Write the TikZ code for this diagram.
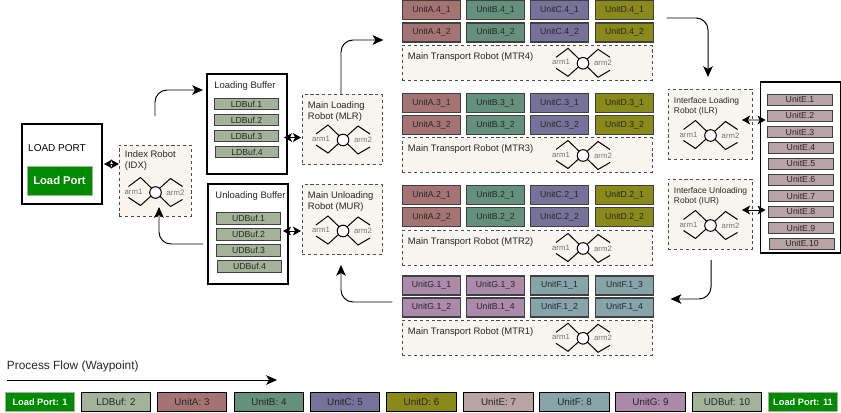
\documentclass[tikz,border=0pt]{standalone}
\usepackage{fontspec}
\setmainfont{Liberation Sans}
\usetikzlibrary{calc, arrows.meta}
\definecolor{mygreen}{HTML}{008A00}
\definecolor{myrobot}{HTML}{F7F5EE}
\definecolor{mybuf}{HTML}{A3B39A}
\definecolor{myunitA}{HTML}{A67373}
\definecolor{myunitB}{HTML}{64907C}
\definecolor{myunitC}{HTML}{757399}
\definecolor{myunitD}{HTML}{8A8A1A}
\definecolor{myunitE}{HTML}{B9A4A4}
\definecolor{myunitF}{HTML}{87A4A9}
\definecolor{myunitG}{HTML}{AB8AAA}
\definecolor{mytext}{HTML}{262626}
\tikzset{
	myblock/.style={rectangle, outer sep=0pt, inner sep=0pt, line width=0.85pt, text=mytext, align=center,
				font=\fontsize{6.2}{7}\selectfont
				},
	myunit/.style={myblock, draw=black!75, minimum width=1.455cm, minimum height=0.475cm
				},
	myunitshort/.style={myblock, draw=black!75, fill=mybuf, minimum width=1.59cm, minimum height=0.28cm
				},
	myunite/.style={myblock, draw=black!75, fill=myunitE, minimum width=1.62cm, minimum height=0.27cm
				},
	mylegend/.style={myblock, draw=black, minimum width=1.73cm, minimum height=0.48cm, line width=0.7pt,
				font=\fontsize{7}{8}\selectfont
				},
	mylegendport/.style={mylegend, draw=mybuf, fill=mygreen, text=white, font=\fontsize{6.6}{8}\selectfont\bfseries
				},
	mybuffer/.style={rectangle, draw=black, fill=white, line width=0.75pt, outer sep=0pt
				},
	myrobotbox/.style={rectangle, draw=black!70, fill=myrobot, line width=0.6pt, dash pattern=on 2.2pt off 2pt, outer sep=0pt
				},
	mylabel/.style={anchor=north west, inner sep=0pt, outer sep=0pt, align=left, text=mytext,
				font=\fontsize{6.7}{7.6}\selectfont
				},
	myarrow/.style={-{Stealth[length=2.7mm, width=2.4mm, inset=0.7mm]}, black, line width=0.7pt, rounded corners=3mm
				},
	mydouble/.style={{Stealth[length=2mm, width=2.2mm, inset=0.5mm]}-{Stealth[length=2mm, width=2.2mm, inset=0.5mm]}, black, line width=0.7pt
				},
	myarms/.pic={
		\draw[line width=0.7pt] (-27,-6) -- (-15,-15) -- (15,14) -- (27,7);
		\draw[line width=0.7pt] (-27,5) -- (-15,13) -- (15,-14) -- (27,-6);
		\node[circle, draw=black, fill=white, line width=0.7pt, minimum size=0.29cm, inner sep=0pt] (hub) at (0,0) {};
		\node[text=black!55, font=\fontsize{5.5}{6}\selectfont] (armone) at (-22,-1) {arm1};
		\node[text=black!55, font=\fontsize{5.5}{6}\selectfont] (armtwo) at (20,0) {arm2};
	}
	}

\begin{document}
\begin{tikzpicture}[x=0.025cm, y=-0.025cm]

	\useasboundingbox (0,0) rectangle (841,413);

	\node[mybuffer, minimum width=2cm, minimum height=2cm] (loadport) at (62,164) {};
	\node[mylabel, anchor=center, font=\fontsize{7.1}{8}\selectfont, text=black] (loadportt) at ($(loadport.center) + (-5,-16)$) {LOAD PORT};
	\node[myblock, draw=mybuf, line width=0.4pt, fill=mygreen, minimum width=1.625cm, minimum height=0.725cm, text=white, font=\fontsize{8}{9}\selectfont\bfseries] (loadportg) at ($(loadport.center) + (-2.5,16.5)$) {Load Port};

	\node[myrobotbox, minimum width=1.8cm, minimum height=1.775cm] (idx) at (155,180.5) {};
	\node[mylabel] (idxt) at ($(idx.north west) + (6,6)$) {Index Robot\\(IDX)};
	\pic (idxarms) at ($(idx.center) + (0.5,12)$) {myarms};

	\node[mybuffer, minimum width=2cm, minimum height=2.5cm] (loadbuf) at (247,124) {};
	\node[mylabel, anchor=center] (loadbuft) at ($(loadbuf.north) + (-2,12)$) {Loading Buffer};
	\node[myunitshort] (ldbuf1) at (246.5,104) {LDBuf.1};
	\node[myunitshort] (ldbuf2) at ($(ldbuf1.center) + (0,16)$) {LDBuf.2};
	\node[myunitshort] (ldbuf3) at ($(ldbuf2.center) + (0,16)$) {LDBuf.3};
	\node[myunitshort] (ldbuf4) at ($(ldbuf3.center) + (0.5,16)$) {LDBuf.4};

	\node[mybuffer, minimum width=2cm, minimum height=2.5cm] (unloadbuf) at (248,234) {};
	\node[mylabel, anchor=center] (unloadbuft) at ($(unloadbuf.north) + (2.5,12)$) {Unloading Buffer};
	\node[myunitshort] (udbuf1) at (248.5,218.5) {UDBuf.1};
	\node[myunitshort] (udbuf2) at ($(udbuf1.center) + (0,16)$) {UDBuf.2};
	\node[myunitshort] (udbuf3) at ($(udbuf2.center) + (0,16)$) {UDBuf.3};
	\node[myunitshort] (udbuf4) at ($(udbuf3.center) + (1,16)$) {UDBuf.4};

	\node[myrobotbox, minimum width=2cm, minimum height=1.75cm] (mlr) at (342,129.5) {};
	\node[mylabel] (mlrt) at ($(mlr.north west) + (6,7)$) {Main Loading\\Robot (MLR)};
	\pic (mlrarms) at ($(mlr.center) + (1,10.5)$) {myarms};

	\node[myrobotbox, minimum width=2cm, minimum height=1.75cm] (mur) at (342,219.5) {};
	\node[mylabel] (murt) at ($(mur.north west) + (6,7)$) {Main Unloading\\Robot (MUR)};
	\pic (murarms) at ($(mur.center) + (1,11.5)$) {myarms};

	% process modules
	\node[myunit, fill=myunitA] (unitA41) at (431.5,10) {UnitA.4\_1};
	\node[myunit, fill=myunitB] (unitB41) at ($(unitA41.center) + (64,0)$) {UnitB.4\_1};
	\node[myunit, fill=myunitC] (unitC41) at ($(unitB41.center) + (64,0)$) {UnitC.4\_1};
	\node[myunit, fill=myunitD] (unitD41) at ($(unitC41.center) + (65,0)$) {UnitD.4\_1};
	\node[myunit, fill=myunitA] (unitA42) at ($(unitA41.center) + (0,22.5)$) {UnitA.4\_2};
	\node[myunit, fill=myunitB] (unitB42) at ($(unitA42.center) + (64,0)$) {UnitB.4\_2};
	\node[myunit, fill=myunitC] (unitC42) at ($(unitB42.center) + (64,0)$) {UnitC.4\_2};
	\node[myunit, fill=myunitD] (unitD42) at ($(unitC42.center) + (65,0)$) {UnitD.4\_2};
	\node[myrobotbox, minimum width=6.25cm, minimum height=0.8625cm] (mtr4) at (527,62.8) {};
	\node[mylabel, anchor=west] (mtr4t) at ($(mtr4.west) + (6,-6)$) {Main Transport Robot (MTR4)};
	\pic (mtr4arms) at ($(mtr4.center) + (56,0.5)$) {myarms};

	\node[myunit, fill=myunitA] (unitA31) at (431.5,102.8) {UnitA.3\_1};
	\node[myunit, fill=myunitB] (unitB31) at ($(unitA31.center) + (64,0)$) {UnitB.3\_1};
	\node[myunit, fill=myunitC] (unitC31) at ($(unitB31.center) + (64,0)$) {UnitC.3\_1};
	\node[myunit, fill=myunitD] (unitD31) at ($(unitC31.center) + (65,0)$) {UnitD.3\_1};
	\node[myunit, fill=myunitA] (unitA32) at ($(unitA31.center) + (0,22)$) {UnitA.3\_2};
	\node[myunit, fill=myunitB] (unitB32) at ($(unitA32.center) + (64,0)$) {UnitB.3\_2};
	\node[myunit, fill=myunitC] (unitC32) at ($(unitB32.center) + (64,0)$) {UnitC.3\_2};
	\node[myunit, fill=myunitD] (unitD32) at ($(unitC32.center) + (65,0)$) {UnitD.3\_2};
	\node[myrobotbox, minimum width=6.25cm, minimum height=0.8625cm] (mtr3) at (527,155) {};
	\node[mylabel, anchor=west] (mtr3t) at ($(mtr3.west) + (6,-6)$) {Main Transport Robot (MTR3)};
	\pic (mtr3arms) at ($(mtr3.center) + (56,0.5)$) {myarms};

	\node[myunit, fill=myunitA] (unitA21) at (431.5,195) {UnitA.2\_1};
	\node[myunit, fill=myunitB] (unitB21) at ($(unitA21.center) + (64,0)$) {UnitB.2\_1};
	\node[myunit, fill=myunitC] (unitC21) at ($(unitB21.center) + (64,0)$) {UnitC.2\_1};
	\node[myunit, fill=myunitD] (unitD21) at ($(unitC21.center) + (65,0)$) {UnitD.2\_1};
	\node[myunit, fill=myunitA] (unitA22) at ($(unitA21.center) + (0,22)$) {UnitA.2\_2};
	\node[myunit, fill=myunitB] (unitB22) at ($(unitA22.center) + (64,0)$) {UnitB.2\_2};
	\node[myunit, fill=myunitC] (unitC22) at ($(unitB22.center) + (64,0)$) {UnitC.2\_2};
	\node[myunit, fill=myunitD] (unitD22) at ($(unitC22.center) + (65,0)$) {UnitD.2\_2};
	\node[myrobotbox, minimum width=6.25cm, minimum height=0.8625cm] (mtr2) at (527,248) {};
	\node[mylabel, anchor=west] (mtr2t) at ($(mtr2.west) + (6,-6)$) {Main Transport Robot (MTR2)};
	\pic (mtr2arms) at ($(mtr2.center) + (56,0.5)$) {myarms};

	\node[myunit, fill=myunitG] (unitG11) at (431.5,285.5) {UnitG.1\_1};
	\node[myunit, fill=myunitG] (unitG13) at ($(unitG11.center) + (64,0)$) {UnitG.1\_3};
	\node[myunit, fill=myunitF] (unitF11) at ($(unitG13.center) + (64,0)$) {UnitF.1\_1};
	\node[myunit, fill=myunitF] (unitF13) at ($(unitF11.center) + (65,0)$) {UnitF.1\_3};
	\node[myunit, fill=myunitG] (unitG12) at ($(unitG11.center) + (0,22)$) {UnitG.1\_2};
	\node[myunit, fill=myunitG] (unitB14) at ($(unitG12.center) + (64,0)$) {UnitB.1\_4};
	\node[myunit, fill=myunitF] (unitF12) at ($(unitB14.center) + (64,0)$) {UnitF.1\_2};
	\node[myunit, fill=myunitF] (unitF14) at ($(unitF12.center) + (65,0)$) {UnitF.1\_4};
	\node[myrobotbox, minimum width=6.25cm, minimum height=0.8625cm] (mtr1) at (527,337.8) {};
	\node[mylabel, anchor=west] (mtr1t) at ($(mtr1.west) + (6,-6)$) {Main Transport Robot (MTR1)};
	\pic (mtr1arms) at ($(mtr1.center) + (56,0.5)$) {myarms};

	\node[myrobotbox, minimum width=2.1cm, minimum height=1.75cm] (ilr) at (710,124) {};
	\node[mylabel, font=\fontsize{6}{7.4}\selectfont] (ilrt) at ($(ilr.north west) + (6,8)$) {Interface Loading\\Robot (ILR)};
	\pic (ilrarms) at ($(ilr.center) + (0.5,11.5)$) {myarms};

	\node[myrobotbox, minimum width=2.1cm, minimum height=1.75cm] (iur) at (710,214) {};
	\node[mylabel, font=\fontsize{6}{7.4}\selectfont] (iurt) at ($(iur.north west) + (6,8)$) {Interface Unloading\\Robot (IUR)};
	\pic (iurarms) at ($(iur.center) + (0.5,11.5)$) {myarms};

	\node[mybuffer, minimum width=2.01cm, minimum height=4.275cm] (unite) at (800.5,167.5) {};
	\node[myunite] (unitE1) at (800,99.7) {UnitE.1};
	\node[myunite] (unitE2) at ($(unitE1.center) + (0,16)$) {UnitE.2};
	\node[myunite] (unitE3) at ($(unitE2.center) + (0,16.3)$) {UnitE.3};
	\node[myunite] (unitE4) at ($(unitE3.center) + (1,15.7)$) {UnitE.4};
	\node[myunite] (unitE5) at ($(unitE4.center) + (0,16)$) {UnitE.5};
	\node[myunite] (unitE6) at ($(unitE5.center) + (0,16)$) {UnitE.6};
	\node[myunite] (unitE7) at ($(unitE6.center) + (0,16.3)$) {UnitE.7};
	\node[myunite] (unitE8) at ($(unitE7.center) + (0,15.7)$) {UnitE.8};
	\node[myunite] (unitE9) at ($(unitE8.center) + (0,16.3)$) {UnitE.9};
	\node[myunite] (unitE10) at ($(unitE9.center) + (1,15.7)$) {UnitE.10};

	% legend
	\node[mylabel, anchor=west, font=\fontsize{8.45}{10}\selectfont] (flowt) at (7,366.7) {Process Flow (Waypoint)};
	\coordinate (flowstart) at ($(flowt.west) + (0,13.3)$);
	\coordinate (flowend) at ($(flowstart) + (270,0)$);
	\node[mylegendport] (lg1) at (40,402) {Load Port: 1};
	\node[mylegend, fill=mybuf] (lg2) at ($(lg1.center) + (76,0)$) {LDBuf: 2};
	\node[mylegend, fill=myunitA] (lg3) at ($(lg2.center) + (76,0)$) {UnitA: 3};
	\node[mylegend, fill=myunitB] (lg4) at ($(lg3.center) + (77,0)$) {UnitB: 4};
	\node[mylegend, fill=myunitC] (lg5) at ($(lg4.center) + (76,0)$) {UnitC: 5};
	\node[mylegend, fill=myunitD] (lg6) at ($(lg5.center) + (76.5,0)$) {UnitD: 6};
	\node[mylegend, fill=myunitE] (lg7) at ($(lg6.center) + (77,0)$) {UnitE: 7};
	\node[mylegend, fill=myunitF] (lg8) at ($(lg7.center) + (76,0)$) {UnitF: 8};
	\node[mylegend, fill=myunitG] (lg9) at ($(lg8.center) + (76,0)$) {UnitG: 9};
	\node[mylegend, fill=mybuf] (lg10) at ($(lg9.center) + (76.5,0)$) {UDBuf: 10};
	\node[mylegendport] (lg11) at ($(lg10.center) + (76,0)$) {Load Port: 11};

	\coordinate (idxout) at ($(idx.north) + (0,-29)$);
	\coordinate (loadbufin) at ($(loadbuf.west) + (-4,-34)$);
	\coordinate (unloadbufout) at ($(unloadbuf.west) + (-5,10)$);
	\coordinate (idxin) at ($(idx.south) + (4,-9)$);
	\coordinate (mtr4in) at ($(unitA42.west) + (-19,7.5)$);
	\coordinate (mtr4out) at ($(unitD41.east) + (13,8)$);
	\coordinate (ilrin) at ($(ilr.north) + (-2,-12)$);
	\coordinate (iurout) at ($(iur.south) + (1,11)$);
	\coordinate (mtr1in) at ($(unitF14.east) + (17,-8.5)$);
	\coordinate (mtr1out) at ($(unitG12.west) + (-10,-5.5)$);
	\coordinate (murin) at ($(mur.south) + (-1,10.5)$);

	\draw[myarrow] (idxout) |- (loadbufin);
	\draw[myarrow] (unloadbufout) -| (idxin);
	\draw[myarrow] (mlr.north -| murin) |- (mtr4in);
	\draw[myarrow] (mtr4out) -| (ilrin);
	\draw[myarrow] (iurout) |- (mtr1in);
	\draw[myarrow] (mtr1out) -| (murin);
	\draw[myarrow] (flowstart) -- (flowend);

	\draw[mydouble] ($(loadport.east) + (2,0)$) -- (loadport.east -| idx.west);
	\draw[mydouble] ($(mlr.west |- ldbuf3.east) + (-18,1.5)$) -- ($(mlr.west |- ldbuf3.east) + (-1,1.5)$);
	\draw[mydouble] ($(mur.west |- udbuf2.east) + (-19,-3.5)$) -- ($(mur.west |- udbuf2.east) + (-1,-3.5)$);
	\draw[mydouble] ($(ilr.east |- unitE2.west) + (-10,4.3)$) -- ($(unitE2.west |- ilr.east) + (-2,-4)$);
	\draw[mydouble] ($(iur.east |- unitE8.west) + (-10,-1.7)$) -- ($(unitE8.west) + (-3,-1.7)$);

\end{tikzpicture}
\end{document}
